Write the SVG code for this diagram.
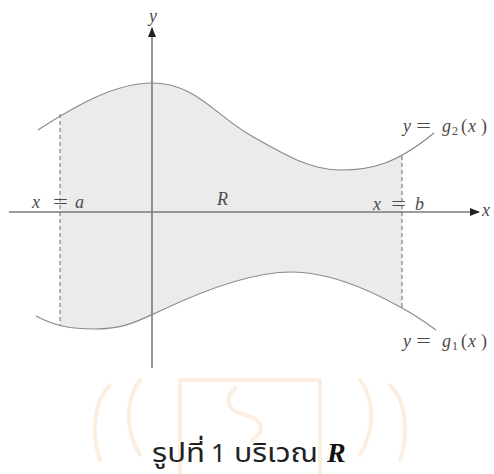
<svg xmlns="http://www.w3.org/2000/svg" width="494" height="474" viewBox="0 0 494 474">
<style>
.curve{fill:none;stroke:#8a8a8a;stroke-width:1.2}
.axis{stroke:#7a7a7a;stroke-width:1.6;fill:none}
.dash{stroke:#6a6a6a;stroke-width:1;stroke-dasharray:4 3;fill:none}
.lbl{font-family:"Liberation Serif",serif;font-style:italic;font-size:18px;fill:#4a4a4a}
.op{font-family:"Liberation Serif",serif;font-size:18px;fill:#4a4a4a}
.sub{font-family:"Liberation Serif",serif;font-size:12px;fill:#4a4a4a}
.cap{font-family:"Noto Sans","Noto Sans Thai",sans-serif;font-size:26px;fill:#222}
.wm{fill:none;stroke:#fcefe2;stroke-width:4;stroke-linecap:round}
</style>
<defs>
<marker id="ah" viewBox="0 0 10 10" refX="9" refY="5" markerWidth="10" markerHeight="10" markerUnits="userSpaceOnUse" orient="auto">
<path d="M0,1 L10,5 L0,9 Z" fill="#222"/>
</marker>
<clipPath id="clipR"><rect x="60" y="0" width="342" height="474"/></clipPath>
</defs>
<rect width="494" height="474" fill="#fff"/>
<g id="watermark">
<path class="wm" d="M180,380 L320,380 M180,380 L180,474 M320,380 L320,474"/>
<path class="wm" d="M110,385 C95,400 90,430 100,460 M140,380 C125,400 125,430 140,455"/>
<path class="wm" d="M390,385 C405,400 410,430 400,460 M360,380 C375,400 375,430 360,455"/>
<path class="wm" d="M235,388 C225,398 225,410 245,415 C265,420 265,432 252,440"/>
</g>
<g id="region-R">
<path clip-path="url(#clipR)" fill="#ebebeb" d="M38,130 C75,106 115,83 152,83 C195,83 215,115 250,135 C285,155 310,170 341,170 C370,170 395,165 434,133 L436,330 C425,322 415,315 402,308 C370,290 330,272 291,272 C250,272 200,292 160,311 C140,320 125,329 95,329 C70,329 55,326 36,316 Z"/>
</g>
<g id="connectors">
<line class="axis" x1="9" y1="212" x2="479" y2="212" marker-end="url(#ah)"/>
<line class="axis" x1="152" y1="368" x2="152" y2="28" marker-end="url(#ah)"/>
<line class="dash" x1="60" y1="114" x2="60" y2="325"/>
<line class="dash" x1="402" y1="156" x2="402" y2="308"/>
</g>
<g id="curve-g2">
<path class="curve" d="M38,130 C75,106 115,83 152,83 C195,83 215,115 250,135 C285,155 310,170 341,170 C370,170 395,165 434,133"/>
<text class="lbl" x="403" y="132">y</text>
<text class="op" x="416" y="132" textLength="15" lengthAdjust="spacingAndGlyphs">=</text>
<text class="lbl" x="442" y="132">g</text>
<text class="sub" x="452" y="135">2</text>
<text class="op" x="461" y="132">(</text>
<text class="lbl" x="468" y="132" font-size="20">x</text>
<text class="op" x="481" y="132">)</text>
</g>
<g id="curve-g1">
<path class="curve" d="M36,316 C55,326 70,329 95,329 C125,329 140,320 160,311 C200,292 250,272 291,272 C330,272 370,290 402,308 C415,315 425,322 436,330"/>
<text class="lbl" x="403" y="347">y</text>
<text class="op" x="416" y="347" textLength="15" lengthAdjust="spacingAndGlyphs">=</text>
<text class="lbl" x="442" y="347">g</text>
<text class="sub" x="452" y="350">1</text>
<text class="op" x="461" y="347">(</text>
<text class="lbl" x="468" y="347" font-size="20">x</text>
<text class="op" x="481" y="347">)</text>
</g>
<g id="labels">
<text class="lbl" x="153" y="22" text-anchor="middle">y</text>
<text class="lbl" x="486" y="216" text-anchor="middle">x</text>
<text class="lbl" x="32" y="208">x</text>
<text class="op" x="53" y="208" textLength="15" lengthAdjust="spacingAndGlyphs">=</text>
<text class="lbl" x="75" y="208">a</text>
<text class="lbl" x="373" y="210">x</text>
<text class="op" x="391" y="210" textLength="15" lengthAdjust="spacingAndGlyphs">=</text>
<text class="lbl" x="415" y="210">b</text>
<text class="lbl" x="217" y="205" font-size="19">R</text>
</g>
<g id="caption">
<text class="cap" x="152" y="462" textLength="53" lengthAdjust="spacingAndGlyphs">รูปที่</text>
<text class="cap" x="211" y="462">1</text>
<text class="cap" x="234" y="462" textLength="84" lengthAdjust="spacingAndGlyphs">บริเวณ</text>
<text x="327" y="462" font-family="Liberation Serif,serif" font-style="italic" font-weight="bold" font-size="28" fill="#111">R</text>
</g>
</svg>
